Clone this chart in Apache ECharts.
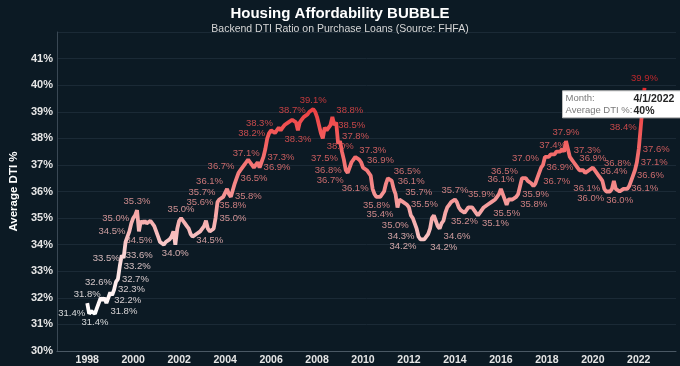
<!DOCTYPE html>
<html><head><meta charset="utf-8">
<script src="https://cdn.jsdelivr.net/npm/echarts@6/dist/echarts.min.js"></script>
<style>html,body{margin:0;padding:0;background:#0c1a24;}#c{width:680px;height:366px;}</style>
</head><body><div id="c"></div><script>
// Monthly backend DTI (%) on purchase loans, Jan 1998 - Apr 2022
const startYear = 1998;
const dti = [
  31.8,31.4,31.5,31.5,31.4,31.6,31.8,32.0,31.9,32.0,31.8,32.0,
  32.2,32.1,32.3,32.6,32.7,33.2,33.6,33.5,34.1,34.3,34.5,34.8,
  35.0,35.1,35.3,34.5,34.9,34.8,34.9,34.8,34.8,34.9,34.9,34.7,
  34.5,34.3,34.1,34.1,34.0,34.1,34.1,34.2,34.3,34.5,34.0,34.6,
  34.9,35.0,34.9,34.8,34.7,34.6,34.4,34.3,34.3,34.4,34.4,34.5,
  34.5,34.7,34.9,34.6,34.5,34.5,34.6,35.0,35.6,35.7,35.7,35.8,
  35.8,36.1,35.9,35.8,35.8,36.3,36.5,36.7,36.8,36.8,37.0,37.1,
  37.2,37.1,37.0,36.9,37.0,37.1,36.9,37.1,37.3,37.6,38.0,38.2,
  38.3,38.3,38.2,38.3,38.4,38.3,38.4,38.5,38.5,38.6,38.6,38.7,
  38.7,38.6,38.3,38.6,38.7,38.8,38.8,38.9,39.0,39.0,39.1,39.0,
  38.8,38.5,38.2,38.0,38.4,38.3,38.3,38.5,38.8,38.5,38.6,37.8,
  37.9,37.5,37.2,36.8,36.7,36.9,37.1,37.2,37.3,37.3,37.2,37.1,
  36.9,36.9,36.8,36.7,36.6,36.1,35.9,35.8,35.8,35.8,35.9,36.0,
  36.3,36.5,36.5,36.4,36.1,35.9,35.4,35.7,35.7,35.6,35.6,35.5,
  35.4,35.1,35.0,34.8,34.6,34.3,34.2,34.2,34.2,34.2,34.4,34.6,
  35.0,35.1,34.9,34.7,34.6,34.8,34.9,35.2,35.4,35.5,35.6,35.6,
  35.7,35.6,35.4,35.3,35.3,35.2,35.3,35.4,35.4,35.4,35.3,35.2,
  35.1,35.2,35.3,35.4,35.4,35.5,35.5,35.6,35.6,35.7,35.8,35.9,
  36.1,35.9,35.7,35.5,35.7,35.7,35.7,35.7,35.8,35.9,36.2,36.5,
  36.5,36.5,36.4,36.4,36.3,36.2,36.3,36.5,36.7,36.9,37.0,37.3,
  37.3,37.3,37.4,37.4,37.4,37.5,37.5,37.5,37.6,37.5,37.9,37.6,
  37.3,37.2,37.1,37.0,36.9,36.8,36.8,36.8,36.7,36.7,36.8,36.8,
  36.9,36.8,36.7,36.6,36.5,36.4,36.1,36.0,36.0,36.0,36.1,36.4,
  36.1,36.1,36.0,36.0,36.1,36.1,36.1,36.2,36.4,36.6,36.8,37.1,
  37.6,38.4,39.2,39.9
];
// months labelled on the chart, with where the label sits
const labelMonths = ['1998-01','1998-02','1998-05','1998-11','1999-01','1999-03','1999-04','1999-05','1999-06','1999-07','1999-08','1999-11','2000-01','2000-03','2000-04','2001-11','2002-02','2003-05','2003-08','2003-09','2003-10','2004-02','2004-04','2004-05','2004-07','2004-08','2004-12','2005-07','2005-09','2005-12','2006-04','2006-12','2007-03','2007-11','2008-04','2008-09','2008-10','2008-12','2009-02','2009-04','2009-05','2009-09','2010-01','2010-06','2010-08','2011-03','2011-05','2011-07','2011-09','2011-12','2012-03','2012-06','2012-07','2012-10','2013-05','2014-01','2014-06','2015-01','2015-12','2016-01','2016-04','2016-09','2016-10','2016-12','2017-09','2017-11','2018-04','2018-11','2019-01','2019-05','2020-01','2020-07','2020-09','2020-12','2021-03','2021-07','2021-10','2021-11','2021-12','2022-01','2022-02','2022-04'];
const labelPlaces = ['top','left','bottom','br','br','right','left','right','right','right','left','left','left','top','bottom','bottom','top','bottom','right','left','tl','tl','right','bottom','right','tl','top','right','right','left','tl','top','bottom','top','br','tr','right','tr','bl','left','bl','tr','tr','left','bottom','tr','tr','bl','tr','right','bl','left','bl','br','br','top','bottom','br','left','top','bottom','br','right','tl','br','tl','top','top','tr','left','top','left','bl','top','bottom','right','right','tl','right','right','left','top'];
const yearTicks = [1998,2000,2002,2004,2006,2008,2010,2012,2014,2016,2018,2020,2022];
const tooltipMonth = '4/1/2022';
const tooltipValue = '40%';

const placeMap = {
  top:{position:'top'}, bottom:{position:'bottom'}, left:{position:'left'}, right:{position:'right'},
  tl:{position:'left',offset:[0,-7]}, tr:{position:'right',offset:[0,-7]},
  bl:{position:'left',offset:[0,7]}, br:{position:'right',offset:[0,8]}
};
const monthKey = i => (startYear + Math.floor(i/12)) + '-' + String(i%12+1).padStart(2,'0');
const data = dti.map((v,i) => {
  const x = startYear + i/12;
  const k = labelMonths.indexOf(monthKey(i));
  if (k < 0) return {value:[x,v]};
  return {value:[x,v], label:Object.assign({show:true}, placeMap[labelPlaces[k]])};
});

const FONT = '"Liberation Sans", Arial, sans-serif';
const chart = echarts.init(document.getElementById('c'));
chart.setOption({
  animation:false,
  backgroundColor:'#0c1a24',
  title:{
    text:'Housing Affordability BUBBLE',
    subtext:'Backend DTI Ratio on Purchase Loans (Source: FHFA)',
    left:'center', top:1, itemGap:3,
    textStyle:{color:'#ffffff', fontSize:15, fontWeight:'bold', fontFamily:FONT},
    subtextStyle:{color:'#d6d6d6', fontSize:10.5, fontFamily:FONT}
  },
  grid:{left:45, right:4, top:32, bottom:15, containLabel:false},
  visualMap:{show:false, type:'continuous', dimension:1, seriesIndex:0, min:31.4, max:40,
    inRange:{color:['#ffffff','#fde2e2','#f6b0b0','#f47f7f','#f25656','#e3282c']}},
  xAxis:{
    type:'value', min:1996.68, max:2023.62,
    axisLine:{show:true, lineStyle:{color:'#4a5864'}},
    axisTick:{show:false},
    splitLine:{show:false},
    axisLabel:{customValues:yearTicks, formatter:v=>String(v), color:'#e6e6e6', fontWeight:'bold', fontSize:10.5, fontFamily:FONT, margin:4}
  },
  yAxis:{
    type:'value', min:30, max:42, interval:1,
    name:'Average DTI %', nameLocation:'middle', nameGap:28, nameRotate:90,
    nameTextStyle:{color:'#ffffff', fontWeight:'bold', fontSize:11.5, fontFamily:FONT},
    axisLine:{show:true, lineStyle:{color:'#3a4854'}},
    axisTick:{show:false},
    splitLine:{show:true, lineStyle:{color:'#1b2a36', width:1}},
    axisLabel:{formatter:v=> v>=42 ? '' : v+'%', color:'#e6e6e6', fontWeight:'bold', fontSize:11, fontFamily:FONT, margin:4}
  },
  series:[{
    type:'line', data:data,
    symbol:'circle', symbolSize:2, showAllSymbol:true,
    itemStyle:{opacity:0},
    lineStyle:{width:3.8},
    label:{show:false, color:'inherit', opacity:0.82, fontSize:9.5, fontFamily:FONT, distance:3,
      formatter:p=>p.value[1].toFixed(1)+'%'},
    emphasis:{disabled:true}
  }]
});

// tooltip-style box anchored at the last data point
const last = data[data.length-1].value;
const pt = chart.convertToPixel({seriesIndex:0}, last);
const bx = pt[0]-82, by = pt[1]+3;
const tf = '9.5px ' + FONT, tfb = 'bold 10.5px ' + FONT;
chart.setOption({graphic:[
  {type:'rect', shape:{x:bx, y:by, width:118, height:27}, style:{fill:'#ffffff', stroke:'#bdbdbd', lineWidth:1}, z:100},
  {type:'text', x:bx+3, y:by+3, style:{text:'Month:', fill:'#7a7a7a', font:tf}, z:101},
  {type:'text', x:bx+71, y:by+3, style:{text:tooltipMonth, fill:'#252525', font:tfb}, z:101},
  {type:'text', x:bx+3, y:by+15, style:{text:'Average DTI %:', fill:'#7a7a7a', font:tf}, z:101},
  {type:'text', x:bx+71, y:by+15, style:{text:tooltipValue, fill:'#252525', font:tfb}, z:101}
]});
</script></body></html>
